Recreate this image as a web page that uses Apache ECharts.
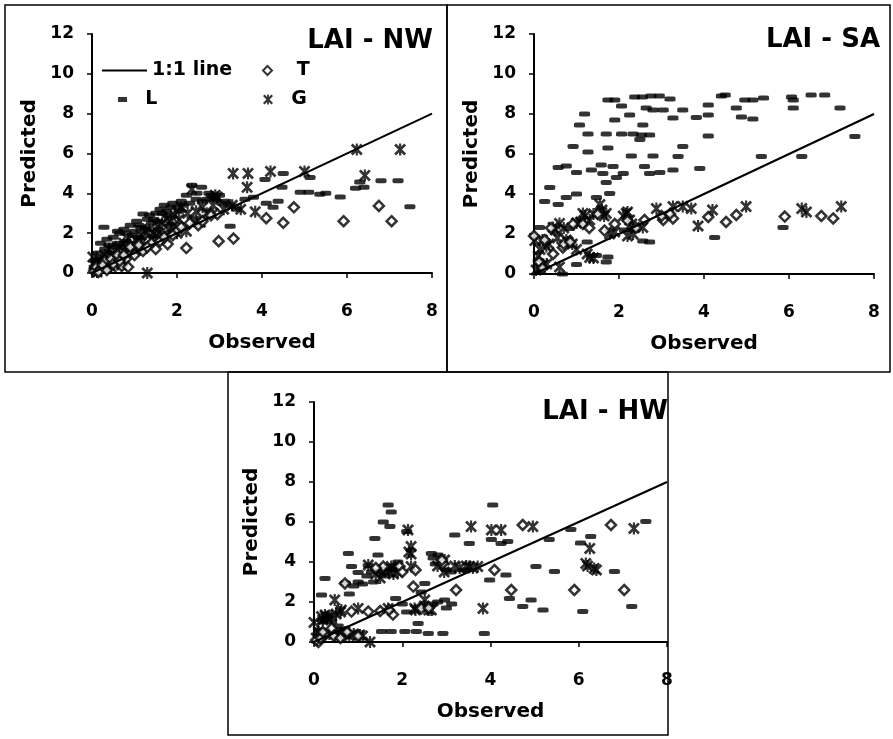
<!DOCTYPE html>
<html>
<head>
<meta charset="utf-8">
<script src="https://cdn.jsdelivr.net/npm/echarts@6/dist/echarts.min.js"></script>
<style>
  html, body { margin: 0; padding: 0; background: #fff; }
  #chart { width: 893px; height: 739px; }
</style>
</head>
<body>
<div id="chart"></div>
<script>
// axis ticks (same for all three panels)
const xTicks = [0, 2, 4, 6, 8];
const yTicks = [0, 2, 4, 6, 8, 10, 12];
const oneToOne = [[0, 0], [8, 8]];

// ---- LAI - NW ----
const nwL = [[0.05,0.3],[0.1,0.6],[0.15,1.0],[0.2,1.5],[0.28,2.3],[0.35,1.7],[0.45,1.0],[0.5,1.8],[0.6,1.5],[0.65,2.0],
  [0.75,2.2],[0.8,1.6],[0.9,2.4],[1.0,2.1],[1.05,2.6],[1.15,2.3],[1.2,2.96],[1.3,2.7],[1.4,2.5],[1.5,3.0],[1.6,3.2],
  [1.7,3.4],[1.8,2.9],[1.9,3.5],[2.0,3.3],[2.1,3.6],[2.22,3.9],[2.35,4.4],[2.47,4.0],[2.58,4.3],[2.7,3.7],[2.8,3.9],
  [2.9,3.7],[3.0,3.9],[3.25,3.4],[3.25,2.35],[3.4,3.2],[3.6,3.7],[3.8,3.8],[4.07,4.7],[4.1,3.5],[4.26,3.3],[4.38,3.6],
  [4.47,4.3],[4.5,5.0],[4.9,4.05],[5.1,4.05],[5.13,4.8],[5.36,3.95],[5.5,4.0],[5.84,3.82],[6.2,4.25],[6.3,4.57],
  [6.4,4.3],[6.8,4.63],[7.2,4.63],[7.48,3.33],[0.3,0.2],[0.55,0.9],[1.1,1.8],[0.7,1.3],
  [0.1,0.2],[0.2,0.8],[0.3,1.2],[0.4,1.4],[0.5,1.3],[0.6,2.1],[0.8,2.0],[0.95,1.9],[1.1,2.4],[1.25,2.2],[1.35,2.9],
  [1.45,2.7],[1.55,2.6],[1.65,3.0],[1.75,3.1],[1.85,3.3],[2.05,3.1],[2.15,3.4],[2.3,3.5],[2.45,3.7],[2.6,3.6],
  [2.75,4.0],[2.85,3.8],[3.05,3.5],[3.15,3.6]];
const nwT = [[0.05,0.1],[0.1,0.3],[0.2,0.2],[0.3,0.6],[0.45,0.7],[0.6,0.9],[0.7,0.35],[0.8,0.7],[0.9,1.3],[1.0,0.9],
  [1.2,1.1],[1.4,1.5],[1.6,1.6],[1.78,1.45],[2.0,2.1],[2.22,1.25],[2.5,2.4],[2.95,2.95],[2.98,1.6],[3.33,1.73],
  [4.1,2.75],[4.5,2.52],[4.75,3.3],[5.92,2.6],[6.75,3.37],[7.05,2.6],
  [0.15,0.05],[0.25,0.4],[0.35,0.15],[0.5,0.45],[0.65,0.6],[0.75,0.9],[0.85,0.3],[1.1,1.4],[1.3,1.3],[1.5,1.2],
  [1.7,1.8],[1.9,1.9],[2.1,2.3],[2.3,2.5],[2.6,2.6],[2.8,2.9]];
const nwG = [[0.02,0.8],[0.05,0.4],[0.1,0.2],[0.15,0.5],[0.25,0.3],[0.3,0.9],[0.4,1.2],[0.5,0.8],[0.6,0.5],[0.7,0.4],
  [0.8,1.0],[0.9,1.4],[1.0,1.1],[1.13,1.2],[1.2,1.6],[1.3,0],[1.4,1.7],[1.5,1.9],[1.6,2.0],[1.7,1.8],[1.8,2.2],
  [1.9,2.3],[2.0,2.0],[2.1,3.3],[2.22,2.1],[2.35,4.2],[2.4,2.6],[2.55,2.55],[2.7,3.0],[2.95,3.8],[3.1,3.2],[3.3,3.4],
  [3.32,5.0],[3.5,3.2],[3.65,4.3],[3.67,5.0],[3.84,3.07],[4.2,5.1],[5.0,5.1],[6.23,6.2],[6.42,4.9],[7.25,6.2],
  [0.35,0.6],[0.45,0.3],[0.55,1.1],[0.65,1.3],[0.75,1.5],[0.85,1.7],[0.95,1.3],[1.05,1.6],[1.15,1.9],[1.25,2.1],
  [1.35,2.2],[1.45,2.0],[1.55,2.4],[1.65,2.5],[1.75,2.7],[1.85,2.6],[1.95,2.9],[2.05,2.7],[2.25,3.0],[2.45,3.1],
  [2.6,3.3],[2.85,3.4],[2.9,3.9],[0.12,0.05],[0.2,0.6]];

// ---- LAI - SA ----
const saL = [[1.74,8.7],[1.9,8.7],[2.37,8.85],[2.55,8.85],[2.75,8.9],[2.95,8.9],[3.2,8.75],[4.41,8.9],[4.5,8.95],
  [4.96,8.7],[5.15,8.7],[5.4,8.8],[6.06,8.85],[6.1,8.7],[6.52,8.95],[6.84,8.95],
  [1.19,8.0],[2.06,8.4],[2.25,7.95],[2.64,8.3],[2.8,8.2],[3.04,8.2],[3.27,7.8],[3.5,8.2],[3.82,7.83],[4.1,7.95],
  [4.1,8.45],[4.76,8.3],[4.88,7.85],[5.15,7.75],[6.1,8.3],[7.2,8.3],
  [1.07,7.45],[1.27,7.0],[1.7,7.0],[2.06,7.0],[2.33,7.0],[2.53,6.95],[2.72,6.95],[2.56,7.45],[2.49,6.73],[4.1,6.9],
  [7.55,6.87],[1.9,7.7],
  [0.92,6.37],[1.27,6.1],[1.74,6.3],[2.29,5.9],[2.8,5.9],[3.39,5.87],[3.5,6.37],[5.35,5.87],[6.3,5.87],
  [0.57,5.33],[0.76,5.4],[1.0,5.07],[1.35,5.2],[1.58,5.45],[1.62,5.03],[1.86,5.37],[1.94,4.83],[2.1,5.03],[2.6,5.37],
  [2.72,5.03],[2.96,5.07],[3.27,5.2],[3.9,5.27],
  [0.37,4.33],[0.76,3.83],[1.0,4.0],[1.47,3.83],[1.7,4.57],[1.78,4.03],[0.25,3.63],[0.57,3.47],
  [0.13,2.33],[1.25,1.6],[1.47,0.93],[1.74,0.85],[1.7,0.6],[1.0,0.47],[0.67,0.0],[2.72,1.6],[2.56,1.65],[4.25,1.83],
  [5.86,2.33],[2.13,2.2],[0.84,2.28],[2.37,2.2]];
const saT = [[0.0,1.9],[0.12,0.6],[0.45,1.0],[0.92,2.5],[1.15,2.5],[1.9,2.5],[1.66,2.17],[3.04,2.7],[3.27,2.78],
  [4.1,2.85],[4.52,2.6],[4.76,2.95],[5.9,2.87],[6.76,2.9],[7.04,2.78],[0.68,1.33],[2.2,2.67],
  [0.4,2.3],[0.7,1.5],[0.85,1.6],[1.3,2.3],[1.5,3.0],[2.4,2.3],[2.6,2.7],[3.0,2.9],[3.2,3.0],[0.25,1.7],[0.2,0.3]];
const saG = [[0.02,1.67],[0.14,1.23],[0.29,1.37],[0.22,0.47],[0.05,0.2],[0.45,2.33],[0.6,2.53],[0.76,1.7],[1.0,1.23],
  [1.15,3.03],[1.31,2.7],[1.55,3.47],[1.7,3.03],[1.31,0.83],[2.17,3.03],[2.25,2.7],[2.33,2.0],[2.56,2.33],[2.88,3.27],
  [3.27,3.37],[3.5,3.37],[3.7,3.27],[3.86,2.4],[4.2,3.2],[4.99,3.37],[6.3,3.27],[6.41,3.1],[7.23,3.37],[1.78,2.0],
  [1.0,2.55],
  [0.1,0.9],[0.2,1.7],[0.35,1.5],[0.5,2.2],[0.55,1.8],[0.7,2.3],[0.8,1.6],[0.9,1.5],[1.1,2.6],[1.2,2.9],[1.4,3.0],
  [1.6,3.2],[1.65,2.9],[2.1,2.9],[2.2,3.1],[2.3,2.5],[2.2,1.9],[1.9,2.1],[0.3,0.5],[0.15,0.3],[1.25,1.0],[1.4,0.8],
  [0.6,0.35]];

// ---- LAI - HW ----
const hwL = [[1.68,6.85],[1.75,6.5],[1.57,6.0],[1.72,5.77],[1.38,5.18],[1.45,4.35],[0.78,4.43],[0.85,3.77],[0.25,3.18],
  [0.17,2.35],[2.1,5.52],[3.19,5.35],[3.52,4.93],[4.05,6.85],[4.02,5.12],[4.24,4.93],[4.39,5.02],[5.33,5.12],
  [5.82,5.62],[6.04,4.95],[6.27,5.28],[7.52,6.03],[5.03,3.77],[5.45,3.52],[6.81,3.52],[3.98,3.1],[4.35,3.35],
  [4.43,2.17],[4.73,1.77],[4.92,2.1],[5.19,1.6],[6.09,1.52],[7.2,1.77],[3.86,0.43],[1.53,0.52],[1.75,0.52],
  [2.06,0.52],[2.32,0.52],[2.59,0.43],[2.92,0.43],[2.36,0.92],[2.51,2.93],[2.43,2.5],[1.85,2.18],[3.12,1.9],
  [2.96,2.1],[2.66,4.43],[2.81,4.35],[1.23,3.82],[1.0,3.48],[0.71,2.95],[0.55,0.8],
  [0.1,0.6],[0.2,1.0],[0.3,1.3],[0.4,1.0],[0.6,0.6],[0.8,2.4],[0.9,2.8],[1.0,3.0],[1.1,2.9],[1.2,3.3],[1.3,3.5],
  [1.35,3.0],[1.5,3.5],[1.6,3.3],[1.8,3.6],[2.0,1.9],[2.1,1.5],[2.4,1.7],[2.7,1.9],[2.8,2.0],[3.0,1.7],[2.7,4.2],
  [2.75,3.9],[3.0,3.6],[3.1,3.5],[3.4,3.6],[1.75,3.8],[1.9,4.0],[0.5,0.4],[0.7,0.3]];
const hwT = [[0.1,0.0],[0.25,0.35],[0.4,0.68],[0.85,1.52],[1.23,1.52],[1.79,1.37],[1.94,3.77],[2.25,2.77],[2.43,1.68],
  [2.92,3.93],[3.22,2.6],[4.09,3.6],[4.47,2.6],[4.73,5.85],[5.9,2.6],[6.73,5.85],[7.03,2.6],[0.7,2.93],[1.57,3.77],
  [0.05,0.1],[0.15,0.2],[0.2,0.5],[0.45,0.3],[0.6,0.2],[0.75,0.5],[1.0,0.3],[1.5,1.55],[1.7,1.6],[2.0,3.5],
  [2.6,1.7],[2.9,4.1],[1.4,3.7],[2.3,3.6]];
const hwG = [[0.0,0.98],[0.17,1.27],[0.47,2.1],[0.62,1.6],[1.0,1.68],[1.27,0.0],[1.04,0.35],[2.13,5.6],[2.2,4.77],
  [2.2,3.77],[2.28,1.68],[2.51,2.1],[1.6,3.6],[1.75,3.77],[1.23,3.85],[3.19,3.8],[3.52,3.77],[3.71,3.77],[3.56,5.77],
  [4.02,5.6],[4.24,5.6],[4.96,5.77],[3.83,1.68],[6.25,4.68],[6.16,3.93],[6.35,3.68],[7.25,5.68],[2.96,4.1],
  [1.68,1.68],[2.66,1.6],[0.25,1.35],
  [0.05,0.2],[0.1,0.5],[0.2,1.1],[0.3,1.2],[0.4,1.3],[0.5,1.4],[0.6,1.5],[0.7,0.5],[0.8,0.3],[0.9,0.4],[1.1,0.3],
  [0.35,0.4],[0.55,0.3],[1.4,3.4],[1.5,3.2],[1.7,3.5],[1.8,3.4],[1.9,3.5],[2.15,4.5],[2.2,4.4],[2.3,1.6],[2.5,1.8],
  [2.6,1.6],[2.8,3.8],[2.95,3.5],[3.3,3.7],[3.45,3.8],[3.6,3.7],[6.2,3.8],[6.4,3.6]];

const panels = [
  { title: 'LAI - NW', L: nwL, T: nwT, G: nwG },
  { title: 'LAI - SA', L: saL, T: saT, G: saG },
  { title: 'LAI - HW', L: hwL, T: hwT, G: hwG }
];

const FONT = 'DejaVu Sans';
// x with a vertical stroke, like the spreadsheet "star" marker
const starPath = 'path://M0,1.6L1.6,0L5,3.4L8.4,0L10,1.6L6.6,5L10,8.4L8.4,10L5,6.6L1.6,10L0,8.4L3.4,5Z M4.1,0L5.9,0L5.9,10L4.1,10Z';

let myChart = echarts.init(document.getElementById('chart'));

const gridPos = [
  { left: 92, top: 34, width: 340, height: 239 },
  { left: 534, top: 34, width: 340, height: 240 },
  { left: 314, top: 402, width: 353, height: 240 }
];

const boldText = { fontFamily: FONT, fontWeight: 'bold', color: '#000' };

const xAxes = [], yAxes = [], series = [];
panels.forEach(function (p, i) {
  xAxes.push({
    gridIndex: i, type: 'value',
    min: xTicks[0], max: xTicks[xTicks.length - 1], interval: xTicks[1] - xTicks[0],
    name: 'Observed', nameLocation: 'middle', nameGap: 60,
    nameTextStyle: Object.assign({ fontSize: 20 }, boldText),
    axisLine: { onZero: false, lineStyle: { color: '#000', width: 2 } },
    axisTick: { length: 5, lineStyle: { color: '#000', width: 1.5 } },
    axisLabel: Object.assign({ fontSize: 17, margin: 30 }, boldText),
    splitLine: { show: false }
  });
  yAxes.push({
    gridIndex: i, type: 'value',
    min: yTicks[0], max: yTicks[yTicks.length - 1], interval: yTicks[1] - yTicks[0],
    name: 'Predicted', nameLocation: 'middle', nameGap: 52, nameRotate: 90,
    nameTextStyle: Object.assign({ fontSize: 20 }, boldText),
    axisLine: { onZero: false, lineStyle: { color: '#000', width: 2 } },
    axisTick: { length: 5, lineStyle: { color: '#000', width: 1.5 } },
    axisLabel: Object.assign({ fontSize: 17, margin: 18 }, boldText),
    splitLine: { show: false }
  });
  series.push({
    name: 'L', type: 'scatter', xAxisIndex: i, yAxisIndex: i, data: p.L,
    symbol: 'roundRect', symbolSize: [11, 5], itemStyle: { color: '#000' }
  });
  series.push({
    name: 'G', type: 'scatter', xAxisIndex: i, yAxisIndex: i, data: p.G,
    symbol: starPath, symbolSize: 12, itemStyle: { color: '#000' }
  });
  series.push({
    name: 'T', type: 'scatter', xAxisIndex: i, yAxisIndex: i, data: p.T,
    symbol: 'diamond', symbolSize: 10,
    itemStyle: { color: '#fff', borderColor: '#000', borderWidth: 2.5 }
  });
  series.push({
    name: '1:1 line', type: 'line', xAxisIndex: i, yAxisIndex: i, data: oneToOne,
    symbol: 'none', color: '#000', lineStyle: { color: '#000', width: 2 }, z: 3
  });
});

const legendText = Object.assign({ fontSize: 19 }, boldText);
const option = {
  backgroundColor: '#fff',
  animation: false,
  grid: gridPos,
  xAxis: xAxes,
  yAxis: yAxes,
  series: series,
  legend: [
    { left: 102, top: 61, padding: 0, itemWidth: 45, itemHeight: 2, textStyle: legendText,
      data: [{ name: '1:1 line', icon: 'rect' }] },
    { left: 262, top: 61, padding: 0, itemWidth: 9, itemHeight: 9, textStyle: legendText,
      formatter: '   {name}', data: [{ name: 'T', icon: 'diamond' }] },
    { left: 118, top: 90, padding: 0, itemWidth: 9, itemHeight: 5, textStyle: legendText,
      formatter: '  {name}', data: [{ name: 'L', icon: 'rect' }] },
    { left: 263, top: 90, padding: 0, itemWidth: 10, itemHeight: 10, textStyle: legendText,
      formatter: '  {name}', data: [{ name: 'G', icon: starPath }] }
  ],
  graphic: [
    { type: 'rect', shape: { x: 5, y: 5, width: 442, height: 367 }, style: { fill: 'none', stroke: '#000', lineWidth: 1.5 } },
    { type: 'rect', shape: { x: 447, y: 5, width: 443, height: 367 }, style: { fill: 'none', stroke: '#000', lineWidth: 1.5 } },
    { type: 'rect', shape: { x: 228, y: 372, width: 440, height: 363 }, style: { fill: '#fff', stroke: '#000', lineWidth: 1.5 }, z: -1 },
    { type: 'text', x: 433, y: 41, style: { text: panels[0].title, textAlign: 'right', textVerticalAlign: 'middle', font: 'bold 26px "DejaVu Sans"', fill: '#000' } },
    { type: 'text', x: 880, y: 40, style: { text: panels[1].title, textAlign: 'right', textVerticalAlign: 'middle', font: 'bold 26px "DejaVu Sans"', fill: '#000' } },
    { type: 'text', x: 668, y: 412, style: { text: panels[2].title, textAlign: 'right', textVerticalAlign: 'middle', font: 'bold 26px "DejaVu Sans"', fill: '#000' } }
  ]
};
myChart.setOption(option);
</script>
</body>
</html>
